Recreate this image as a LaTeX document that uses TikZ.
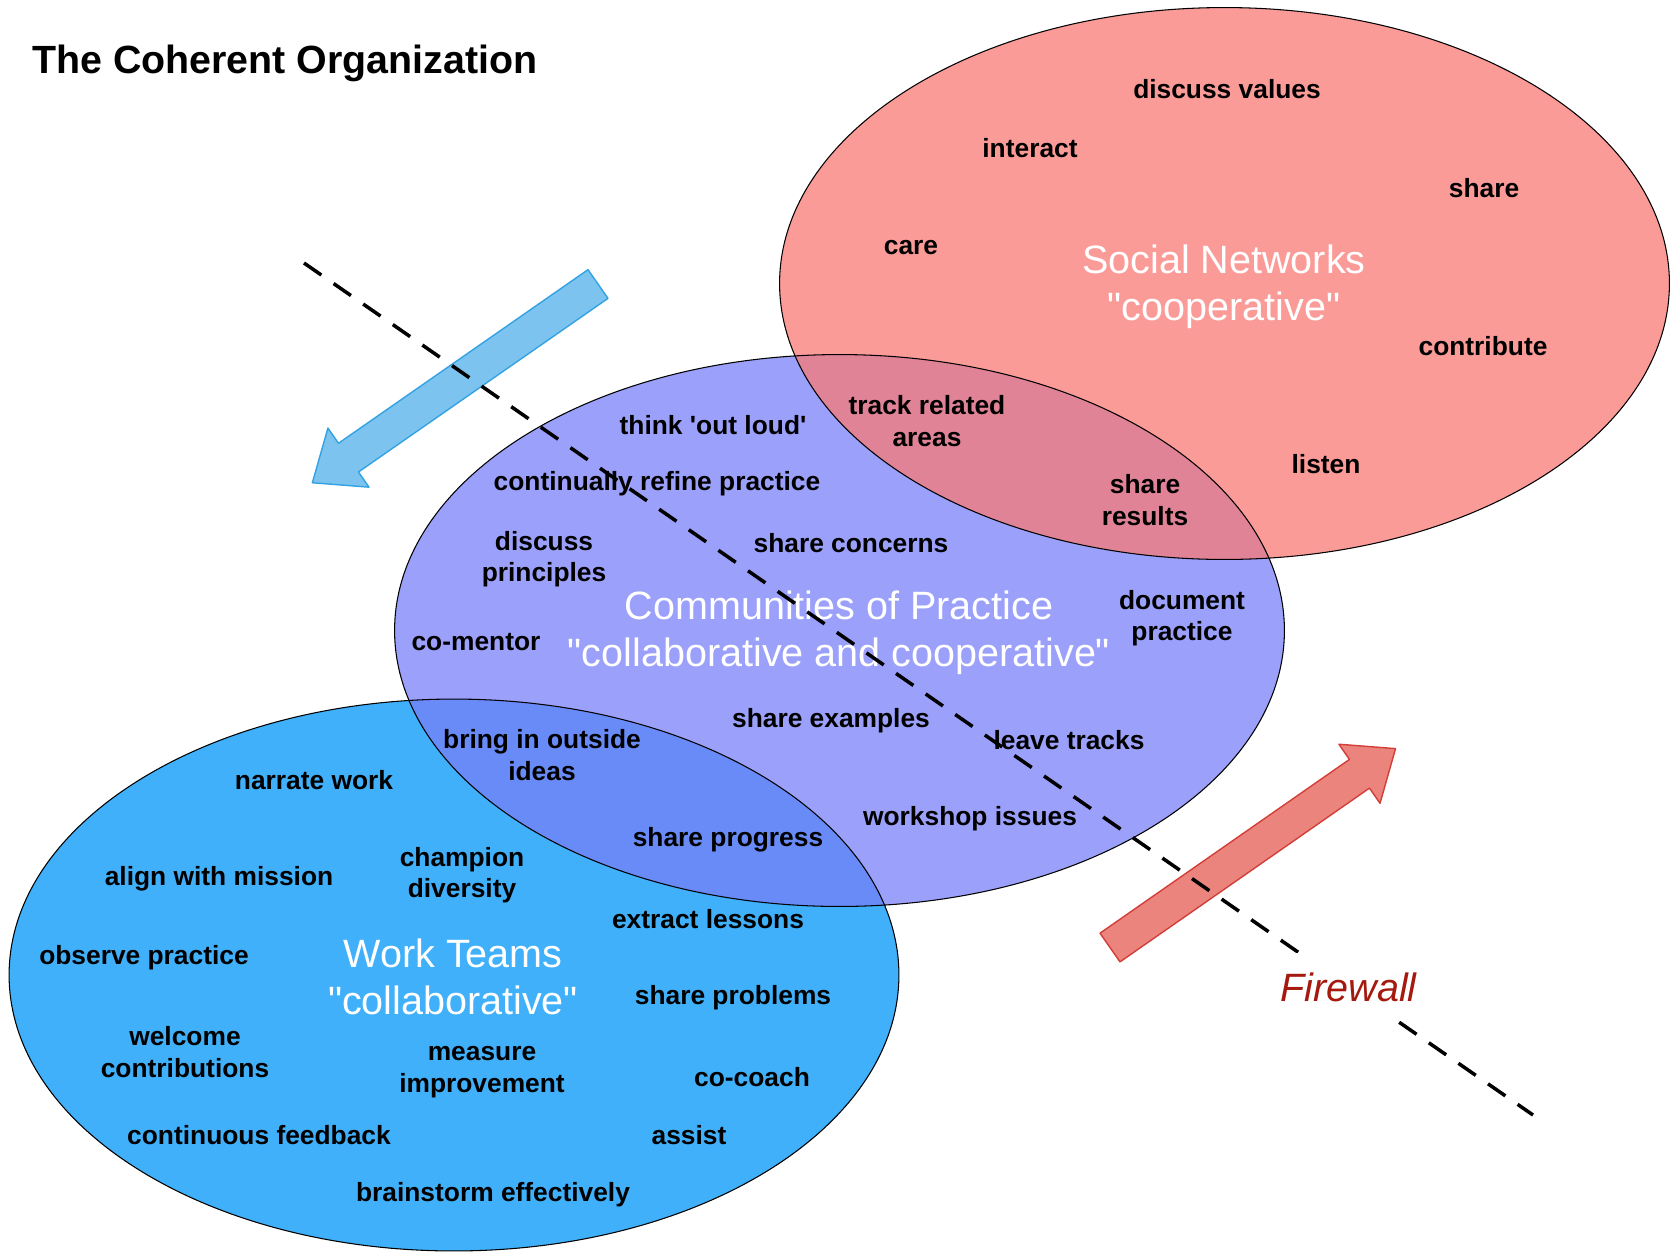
\documentclass[tikz,border=0pt]{standalone}
\usepackage{fontspec}
\setmainfont{Liberation Sans}
\usetikzlibrary{calc}

\definecolor{teamblue}{RGB}{64,176,250}
\definecolor{copviolet}{RGB}{120,127,248}
\definecolor{socialred}{RGB}{248,122,118}
\definecolor{arrowblue}{RGB}{124,196,239}
\definecolor{arrowblueedge}{RGB}{52,162,226}
\definecolor{arrowred}{RGB}{236,132,126}
\definecolor{arrowrededge}{RGB}{210,62,56}
\definecolor{firewallred}{RGB}{165,25,15}

% straight quotes, past the tex-text mapping
\newcommand{\dq}{\XeTeXglyph\XeTeXcharglyph34\relax}
\newcommand{\sq}{\XeTeXglyph\XeTeXcharglyph39\relax}

\tikzset{
  word/.style={font=\bfseries\fontsize{15}{18}\selectfont, align=center, inner sep=1pt},
  group/.style={font=\fontsize{22.5}{27}\selectfont, text=white, align=center, inner sep=1pt},
  fatarrow/.style={line width=0.8pt, line join=round}
}

\begin{document}
\begin{tikzpicture}[x=0.02cm,y=-0.02cm]
  \useasboundingbox (0,0) rectangle (1673,1252);

  \node[anchor=west, inner sep=0pt, font=\bfseries\fontsize{22.4}{27}\selectfont] (title) at (32,63) {The Coherent Organization};

  % the three groups
  \coordinate (work)   at (454,975);
  \coordinate (cop)    at (839.5,630.5);
  \coordinate (social) at (1224.5,283.5);

  \fill[teamblue] (work) ellipse [x radius=8.9cm, y radius=5.52cm];
  \fill[copviolet, fill opacity=.74] (cop) ellipse [x radius=8.9cm, y radius=5.52cm];
  \fill[socialred, fill opacity=.75] (social) ellipse [x radius=8.9cm, y radius=5.52cm];
  \foreach \c in {work,cop,social}
    \draw[line width=0.6pt] (\c) ellipse [x radius=8.9cm, y radius=5.52cm];

  % the two arrows
  \begin{scope}[shift={(598,284)}, rotate=214.83]
    \filldraw[fatarrow, fill=arrowblue, draw=arrowblueedge]
      (0,-17.5) -- (304,-17.5) -- (304,-36) -- (348,0) -- (304,36) -- (304,17.5) -- (0,17.5) -- cycle;
  \end{scope}
  \begin{scope}[shift={(1110,947.5)}, rotate=34.86]
    \filldraw[fatarrow, fill=arrowred, draw=arrowrededge]
      (0,-17.5) -- (304,-17.5) -- (304,-36) -- (348,0) -- (304,36) -- (304,17.5) -- (0,17.5) -- cycle;
  \end{scope}

  \begin{scope}[every node/.style=group]
    \node (social name) at (1224,287) {Social Networks\\\dq cooperative\dq};
    \node (cop name)    at (839,633)  {Communities of Practice\\\dq collaborative and cooperative\dq};
    \node (work name)   at (453,977)  {Work Teams\\\dq collaborative\dq};
  \end{scope}

  \begin{scope}[every node/.style=word]
    % social networks
    \node (values)     at (1227,89)  {discuss values};
    \node (interact)   at (1030,148) {interact};
    \node (share)      at (1484,188) {share};
    \node (care)       at (911,248)  {care};
    \node (contribute) at (1483,346) {contribute};
    \node (track)      at (927,421)  {track related\\areas};
    \node (listen)     at (1326,464) {listen};
    \node (results)    at (1145,500) {share\\results};
    % communities of practice
    \node (loud)       at (713,425)  {think \sq out loud\sq};
    \node (refine)     at (657,484)  {continually refine practice};
    \node (principles) at (544,559)  {discuss\\principles};
    \node (concerns)   at (851,543)  {share concerns};
    \node (document)   at (1182,618) {document\\practice};
    \node (mentor)     at (476,642)  {co-mentor};
    \node (examples)   at (831,721)  {share examples};
    \node (tracks)     at (1069,740) {leave tracks};
    \node (outside)    at (542,755)  {bring in outside\\ideas};
    \node (workshop)   at (970,819)  {workshop issues};
    \node (progress)   at (728,840)  {share progress};
    % work teams
    \node (narrate)    at (314,780)  {narrate work};
    \node (mission)    at (219,879)  {align with mission};
    \node (champion)   at (462,875)  {champion\\diversity};
    \node (lessons)    at (708,919)  {extract lessons};
    \node (observe)    at (144,958)  {observe practice};
    \node (problems)   at (733,998)  {share problems};
    \node (welcome)    at (185,1052) {welcome\\contributions};
    \node (measure)    at (482,1072) {measure\\improvement};
    \node (cocoach)    at (752,1077) {co-coach};
    \node (feedback)   at (259,1135) {continuous feedback};
    \node (assist)     at (689,1135) {assist};
    \node (brainstorm) at (493,1195) {brainstorm effectively};
  \end{scope}

  % firewall
  \coordinate (wall top)    at (304,263);
  \coordinate (wall bottom) at (1533,1115);
  \draw[line width=2pt, dash pattern=on 12pt off 8.5pt] (wall top) -- (wall bottom);
  \node[fill=white, inner xsep=2pt, inner ysep=11pt, text=firewallred,
        font=\itshape\fontsize{22.5}{27}\selectfont] (firewall)
    at ($(wall top)!0.85!(wall bottom)$) {Firewall};

\end{tikzpicture}
\end{document}
